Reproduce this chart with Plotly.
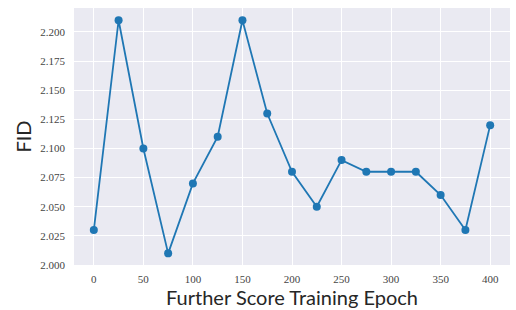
import plotly.graph_objects as go

epochs = [0, 25, 50, 75, 100, 125, 150, 175, 200, 225, 250, 275, 300, 325, 350, 375, 400]
fid = [2.03, 2.21, 2.10, 2.01, 2.07, 2.11, 2.21, 2.13, 2.08, 2.05, 2.09, 2.08, 2.08, 2.08, 2.06, 2.03, 2.12]
x_ticks = [0, 50, 100, 150, 200, 250, 300, 350, 400]
y_ticks = [2.000, 2.025, 2.050, 2.075, 2.100, 2.125, 2.150, 2.175, 2.200]

fig = go.Figure(go.Scatter(
    x=epochs, y=fid, mode="lines+markers",
    line=dict(color="#1f77b4", width=1.8),
    marker=dict(color="#1f77b4", size=8),
))

tick_font = dict(family="'Liberation Serif', 'Times New Roman', serif", size=11, color="#444")

fig.update_layout(
    width=516, height=310,
    margin=dict(l=74, r=6, t=8, b=45),
    paper_bgcolor="white", plot_bgcolor="#EAEAF2",
    showlegend=False,
)
fig.update_xaxes(
    range=[-20, 420], tickvals=x_ticks, ticktext=[str(v) for v in x_ticks],
    showgrid=True, gridcolor="white", gridwidth=1.2, zeroline=False,
    tickfont=tick_font,
    ticks="", ticklabelstandoff=6,
    title=dict(text="Further Score Training Epoch", font=dict(family="Lato", size=20, color="#262626"), standoff=4),
)
fig.update_yaxes(
    range=[2.0, 2.2205], tickvals=y_ticks, ticktext=["%.3f" % v for v in y_ticks],
    showgrid=True, gridcolor="white", gridwidth=1.2, zeroline=False,
    tickfont=tick_font,
    ticks="", ticklabelstandoff=8,
    title=dict(text="FID", font=dict(family="Lato", size=20, color="#262626"), standoff=3),
)

fig.write_html("out.html", config={"displayModeBar": False},
               post_script="document.body.style.margin='0';")
